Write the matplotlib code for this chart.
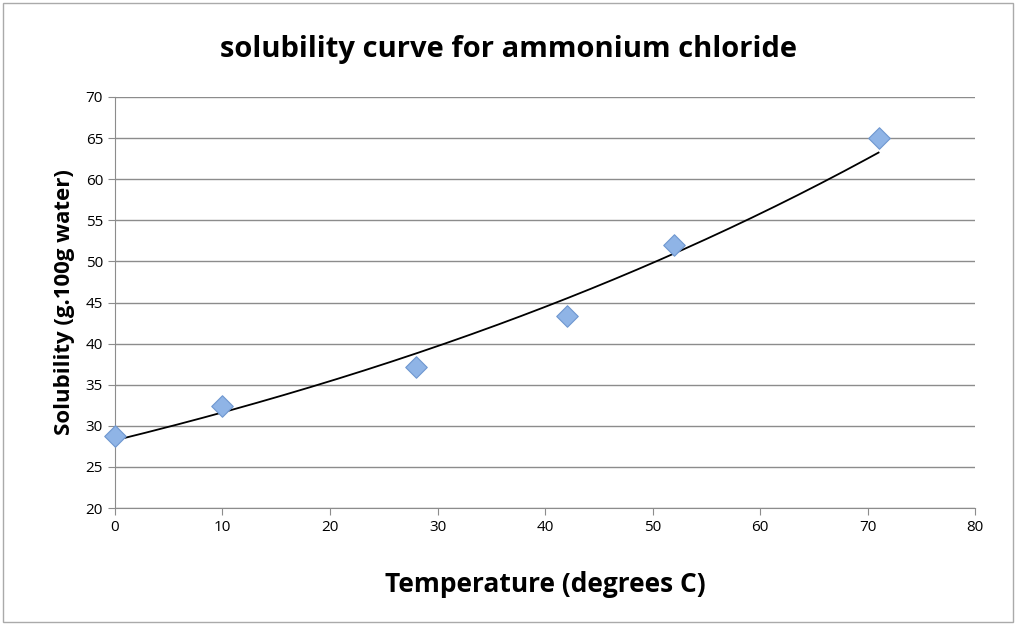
import numpy as np
import matplotlib
matplotlib.use("Agg")
import matplotlib.pyplot as plt
from matplotlib.patches import Rectangle

temps = [0, 10, 28, 42, 52, 71]
solub = [28.8, 32.4, 37.2, 43.3, 52.0, 65.0]
title = "solubility curve for ammonium chloride"
xlabel = "Temperature (degrees C)"
ylabel = "Solubility (g.100g water)"

plt.rcParams['font.family'] = ['Open Sans', 'DejaVu Sans']
fig = plt.figure(figsize=(10.16, 6.25), dpi=100)
ax = fig.add_axes([0.113, 0.187, 0.847, 0.658])

# exponential trendline fit
b, a = np.polyfit(temps, np.log(solub), 1)
xs = np.linspace(min(temps), max(temps), 200)
ax.plot(xs, np.exp(a) * np.exp(b * xs), color='black', lw=1.3, zorder=2)
ax.scatter(temps, solub, marker='D', s=120, color='#8fb4e6', edgecolors='#6f97d0',
           linewidths=0.8, zorder=3, clip_on=False)

ax.set_xlim(0, 80)
ax.set_ylim(20, 70)
ax.set_xticks(range(0, 81, 10))
ax.set_yticks(range(20, 71, 5))
ax.grid(axis='y', color='#8c8c8c', lw=1)
ax.set_axisbelow(True)
for s in ['top', 'right']:
    ax.spines[s].set_visible(False)
for s in ['left', 'bottom']:
    ax.spines[s].set_color('#8c8c8c')
ax.tick_params(axis='both', colors='#8c8c8c', labelcolor='black', labelsize=11, length=5, direction='out')
ax.set_xlabel(xlabel, fontsize=19, fontweight='bold', labelpad=26)
ax.set_ylabel(ylabel, fontsize=16, fontweight='bold', labelpad=8)
fig.text(0.5, 0.92, title, ha='center', va='center', fontsize=21, fontweight='bold')
fig.patches.append(Rectangle((0.003, 0.005), 0.994, 0.99, transform=fig.transFigure,
                             fill=False, edgecolor='#aaaaaa', lw=1))
fig.savefig("out.png", dpi=100)
